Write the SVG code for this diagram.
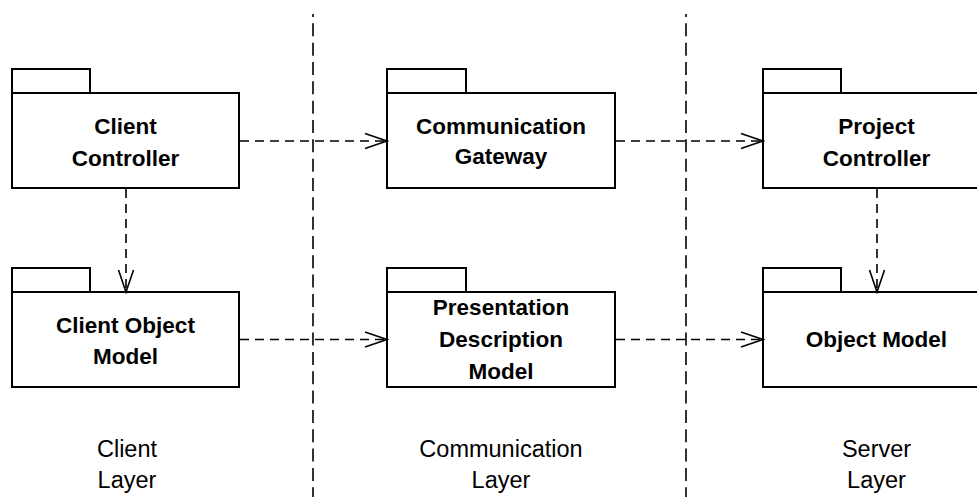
<svg xmlns="http://www.w3.org/2000/svg" width="977" height="497" viewBox="0 0 977 497">
<style>
.pkg{fill:#fff;stroke:#000;stroke-width:2}
.name{font-family:"Liberation Sans",Arial,sans-serif;font-weight:bold;font-size:22.5px;text-anchor:middle;fill:#000}
.layer{font-family:"Liberation Sans",Arial,sans-serif;font-size:23.5px;text-anchor:middle;fill:#000}
.dep{fill:none;stroke:#000;stroke-width:1.6;stroke-dasharray:9 6;marker-end:url(#open)}
.div{fill:none;stroke:#000;stroke-width:1.6;stroke-dasharray:13 6.33;stroke-dashoffset:10}
</style>
<defs>
<marker id="open" markerUnits="userSpaceOnUse" markerWidth="26" markerHeight="18" refX="22" refY="7.5" orient="auto" overflow="visible">
<path d="M0,0 L22,7.5 L0,15" fill="none" stroke="#000" stroke-width="1.6" stroke-dasharray="none"/>
</marker>
</defs>
<g id="dividers">
<line class="div" x1="313" y1="14" x2="313" y2="497"/>
<line class="div" x1="686" y1="14" x2="686" y2="497"/>
</g>
<g id="client-controller">
<rect class="pkg" x="12" y="69" width="78" height="24"/>
<rect class="pkg" x="12" y="93" width="227" height="95"/>
<text class="name" x="125.5" y="134">Client</text>
<text class="name" x="125.5" y="166">Controller</text>
</g>
<g id="client-object-model">
<rect class="pkg" x="12" y="268" width="78" height="24"/>
<rect class="pkg" x="12" y="292" width="227" height="95"/>
<text class="name" x="125.5" y="333">Client Object</text>
<text class="name" x="125.5" y="364">Model</text>
</g>
<g id="communication-gateway">
<rect class="pkg" x="387" y="69" width="79" height="24"/>
<rect class="pkg" x="387" y="93" width="228" height="95"/>
<text class="name" x="501" y="134">Communication</text>
<text class="name" x="501" y="164">Gateway</text>
</g>
<g id="presentation-description-model">
<rect class="pkg" x="387" y="268" width="79" height="24"/>
<rect class="pkg" x="387" y="292" width="228" height="95"/>
<text class="name" x="501" y="315">Presentation</text>
<text class="name" x="501" y="347">Description</text>
<text class="name" x="501" y="379">Model</text>
</g>
<g id="project-controller">
<rect class="pkg" x="763" y="69" width="78" height="24"/>
<rect class="pkg" x="763" y="93" width="227" height="95"/>
<text class="name" x="876.5" y="134">Project</text>
<text class="name" x="876.5" y="166">Controller</text>
</g>
<g id="object-model">
<rect class="pkg" x="763" y="268" width="78" height="24"/>
<rect class="pkg" x="763" y="292" width="227" height="95"/>
<text class="name" x="876.5" y="347">Object Model</text>
</g>
<g id="connectors">
<line class="dep" x1="240" y1="141" x2="387" y2="141"/>
<line class="dep" x1="616" y1="141" x2="763" y2="141"/>
<line class="dep" x1="240" y1="339.5" x2="387" y2="339.5"/>
<line class="dep" x1="616" y1="339.5" x2="763" y2="339.5"/>
<line class="dep" x1="126" y1="189" x2="126" y2="292"/>
<line class="dep" x1="877" y1="189" x2="877" y2="292"/>
</g>
<g id="layer-labels">
<text class="layer" x="127" y="457">Client</text>
<text class="layer" x="127" y="488">Layer</text>
<text class="layer" x="501" y="457">Communication</text>
<text class="layer" x="501" y="488">Layer</text>
<text class="layer" x="876.5" y="457">Server</text>
<text class="layer" x="876.5" y="488">Layer</text>
</g>
</svg>
